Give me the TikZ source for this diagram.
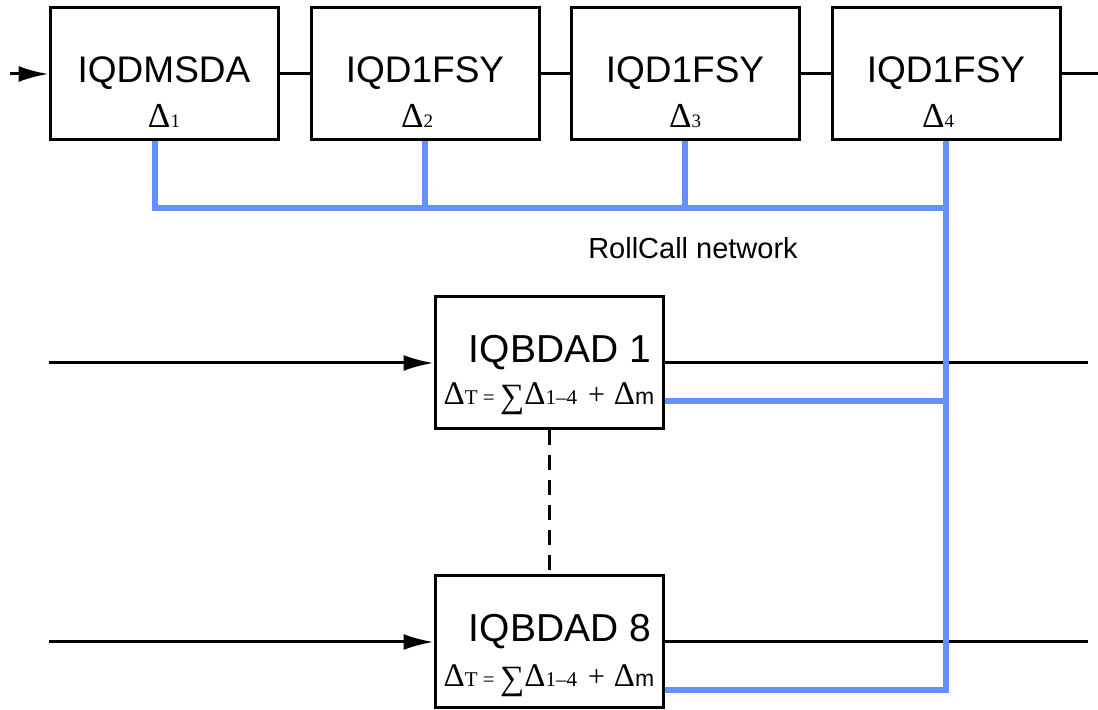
\documentclass[tikz,border=0pt]{standalone}
\usepackage{fontspec}
\setmainfont{Liberation Sans}
\newfontfamily\dfont{Liberation Serif}
\usepackage{xcolor}
\usetikzlibrary{arrows.meta,positioning,calc}
\definecolor{Bus}{HTML}{6690FF}
\newcommand{\dlt}[1]{{\dfont\fontsize{17.5}{17.5}\selectfont Δ\fontsize{9.5}{9.5}\selectfont #1}}
\newcommand{\dtot}{{\dfont\fontsize{16.5}{16.5}\selectfont Δ{\fontsize{10.5}{10.5}\selectfont T = }\raisebox{-1.5pt}{\fontsize{17}{17}\selectfont ∑}Δ{\fontsize{10.5}{10.5}\selectfont 1–4}\hspace{5.5pt}{\fontsize{15}{15}\selectfont +}\hspace{4.5pt}Δ}{\fontsize{11.5}{11.5}\selectfont m}}

\begin{document}
\begin{tikzpicture}[x=0.5pt, y=-0.5pt,
  blk/.style={draw, line width=1.5pt, minimum width=114pt, minimum height=66pt, inner sep=0pt, font=\fontsize{18.5}{20}\selectfont, text height=13pt, text depth=4pt},
  qblk/.style={blk, font=\fontsize{19.5}{21}\selectfont, text depth=13pt},
  dl/.style={anchor=base, inner sep=0pt},
  wire/.style={line width=1.5pt},
  arr/.style={-{Latex[length=15pt,width=8pt]}, line width=1.5pt},
  bus/.style={draw=Bus, line width=2.6pt}
]
\useasboundingbox (0,0) rectangle (1098,710);
\node[blk] (b1) at (164,74) {IQDMSDA};
\node[blk, right=15pt of b1] (b2) {IQD1FSY};
\node[blk, right=14.5pt of b2] (b3) {IQD1FSY};
\node[blk, right=15pt of b3] (b4) {IQD1FSY};
\node[dl] (d1) at ([yshift=-27pt]b1.center) {\dlt{1}};
\node[dl] (d2) at ([xshift=-4pt,yshift=-27pt]b2.center) {\dlt{2}};
\node[dl] (d3) at ([yshift=-27pt]b3.center) {\dlt{3}};
\node[dl] (d4) at ([xshift=-4pt,yshift=-27pt]b4.center) {\dlt{4}};
\node[font=\fontsize{14.5}{16}\selectfont] (rc) at (693,248) {RollCall network};
\node[qblk] (q1) at (549,363) {\hspace*{11pt}IQBDAD 1};
\node[qblk, below=72pt of q1] (q8) {\hspace*{11pt}IQBDAD 8};
\node[dl] (t1) at ([yshift=-21pt]q1.center) {\dtot};
\node[dl] (t8) at ([yshift=-22.5pt]q8.center) {\dtot};
\coordinate (in0) at (10,74);
\coordinate (out0) at (1098,74);
\coordinate (in1) at (49,363);
\coordinate (out1) at (1088,363);
\coordinate (in8) at (49,642);
\coordinate (out8) at (1088,642);
\coordinate (bj) at (943,208);
\coordinate (q1b) at ([yshift=-19pt]q1.east);
\coordinate (q8b) at ([yshift=-24pt]q8.east);
\draw[arr] (in0) -- (b1.west);
\draw[wire] (b1) -- (b2);
\draw[wire] (b2) -- (b3);
\draw[wire] (b3) -- (b4);
\draw[wire] (b4.east) -- (out0);
\draw[arr] (in1) -- (q1.west);
\draw[wire] (q1.east) -- (out1);
\draw[arr] (in8) -- (q8.west);
\draw[wire] (q8.east) -- (out8);
\draw[wire, dash pattern=on 7.5pt off 5pt] (q1.south) -- (q8.north);
\draw[bus] ([xshift=-4.5pt]b1.south) |- (bj);
\draw[bus] (b2.south) -- (b2.south |- bj);
\draw[bus] (b3.south) -- (b3.south |- bj);
\draw[bus] (q8b) -| (b4.south);
\draw[bus] (q1b) -- (q1b -| b4.south);
\end{tikzpicture}
\end{document}
